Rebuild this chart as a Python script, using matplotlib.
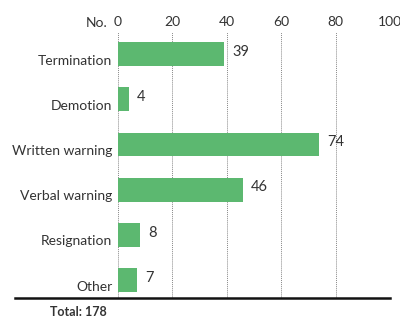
import matplotlib.pyplot as plt
import numpy as np
from matplotlib.lines import Line2D
from matplotlib.transforms import ScaledTranslation

categories = ["Termination", "Demotion", "Written warning", "Verbal warning", "Resignation", "Other"]
counts = [39, 4, 74, 46, 8, 7]
total = 178
xticks = [0, 20, 40, 60, 80, 100]

plt.rcParams["font.family"] = ["Lato", "DejaVu Sans"]
text_color = "#333333"
bar_color = "#5cb870"

fig = plt.figure(figsize=(4.0, 3.23), dpi=100)
ax = fig.add_axes([0.295, 0.077, 0.68, 0.824])

y = np.arange(len(categories))
ax.barh(y, counts, height=0.53, color=bar_color, zorder=2)
for yi, c in zip(y, counts):
    ax.text(c + 3, yi - 0.05, str(c), va="center", ha="left", fontsize=10.5, color=text_color)

ax.set_xlim(0, 100)
ax.set_ylim(5.4, -0.49)
ax.set_xticks(xticks)
ax.set_yticks(y)
ax.set_yticklabels(categories)
ax.xaxis.tick_top()
ax.tick_params(axis="both", length=0, labelsize=10, labelcolor=text_color)
ax.tick_params(axis="x", pad=3)
ax.tick_params(axis="y", pad=4)
# category names sit a little below the bar centres
shift = ScaledTranslation(0, -4 / 72, fig.dpi_scale_trans)
for lbl in ax.get_yticklabels():
    lbl.set_transform(lbl.get_transform() + shift)
ax.grid(axis="x", linestyle=(0, (1, 1)), color="#888888", linewidth=0.7, zorder=1)
for s in ax.spines.values():
    s.set_visible(False)

fig.text(0.268, 0.928, "No.", ha="right", va="center", fontsize=10, color=text_color)
fig.add_artist(Line2D([0.037, 0.975], [0.077, 0.077], color="#111111", linewidth=1.8))
fig.text(0.125, 0.034, f"Total: {total}", ha="left", va="center",
         fontsize=9, fontweight="bold", color=text_color)

fig.savefig("out.png", dpi=100)
